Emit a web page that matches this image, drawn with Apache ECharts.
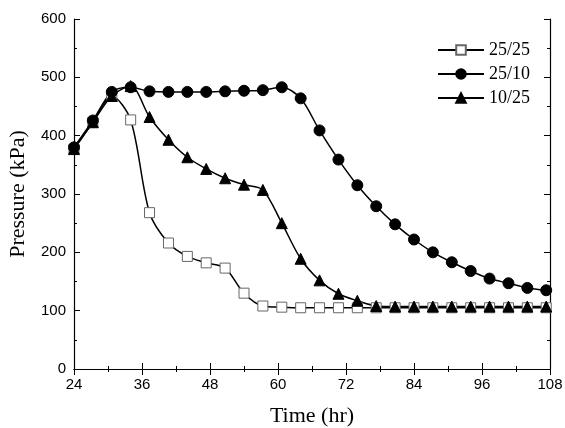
<!DOCTYPE html>
<html><head><meta charset="utf-8">
<script src="https://cdn.jsdelivr.net/npm/echarts@6/dist/echarts.min.js"></script>
<style>html,body{margin:0;background:#fff}#c{width:565px;height:428px}</style>
</head><body><div id="c"></div>
<script>
var times = [];
for (var i = 0; i < 26; i++) times.push(+(24 + i * 10 / 3).toFixed(2));
var s2525 = [377, 423, 468, 427, 268, 216, 193, 182, 173, 130, 108, 106, 105, 105, 105, 105, 105, 105, 105, 105, 105, 105, 105, 105, 105, 105];
var s2510 = [380, 426, 475, 483, 476, 475, 475, 475, 476, 477, 478, 483, 464, 409, 359, 315, 279, 248, 222, 200, 183, 168, 155, 147, 139, 135];
var s1025 = [377, 423, 468, 485, 432, 393, 363, 343, 327, 316, 307, 250, 189, 152, 129, 117, 108, 107, 107, 107, 107, 107, 107, 107, 107, 107];
var names = ['25/25', '25/10', '10/25'];

function pairs(v) { return v.map(function (y, i) { return [times[i], y]; }); }
var font = 'Liberation Serif';
var axisCommon = {
  axisLine: { show: true, lineStyle: { color: '#000', width: 1.2 } },
  axisTick: { show: true, inside: true, length: 6, lineStyle: { color: '#000' } },
  minorTick: { show: true, splitNumber: 2, length: 3, lineStyle: { color: '#000' } },
  splitLine: { show: false },
  axisLabel: { color: '#000', fontFamily: 'Arial', fontSize: 15 }
};
function ser(name, data, symbol, fill) {
  return {
    name: name, type: 'line', smooth: 0.3, data: pairs(data),
    symbol: symbol, symbolSize: symbol === 'rect' ? 10 : 11,
    lineStyle: { color: '#000', width: 1.5 },
    itemStyle: { color: fill, borderColor: fill === '#fff' ? '#666' : '#000', borderWidth: 1 }
  };
}
var chart = echarts.init(document.getElementById('c'));
chart.setOption({
  animation: false,
  grid: { left: 74, right: 15, top: 19, bottom: 59, containLabel: false, outerBoundsMode: 'none' },
  legend: {
    orient: 'vertical', right: 30, top: 36, itemGap: 6, itemWidth: 46, itemHeight: 12,
    textStyle: { fontFamily: font, fontSize: 18, color: '#000' },
    data: names
  },
  xAxis: [Object.assign({}, axisCommon, {
    type: 'value', min: 24, max: 108, interval: 12,
    name: 'Time (hr)', nameLocation: 'middle', nameGap: 36,
    nameTextStyle: { fontFamily: font, fontSize: 22, color: '#000' }
  }), Object.assign({}, axisCommon, {
    type: 'value', position: 'top', min: 24, max: 108, interval: 12,
    axisLabel: { show: false }
  })],
  yAxis: [Object.assign({}, axisCommon, {
    type: 'value', min: 0, max: 600, interval: 100,
    name: 'Pressure (kPa)', nameLocation: 'middle', nameGap: 45,
    nameTextStyle: { fontFamily: font, fontSize: 22, color: '#000' }
  }), Object.assign({}, axisCommon, {
    type: 'value', position: 'right', min: 0, max: 600, interval: 100,
    axisLabel: { show: false }
  })],
  series: [
    ser(names[0], s2525, 'rect', '#fff'),
    ser(names[1], s2510, 'circle', '#000'),
    ser(names[2], s1025, 'triangle', '#000')
  ]
});
</script></body></html>
